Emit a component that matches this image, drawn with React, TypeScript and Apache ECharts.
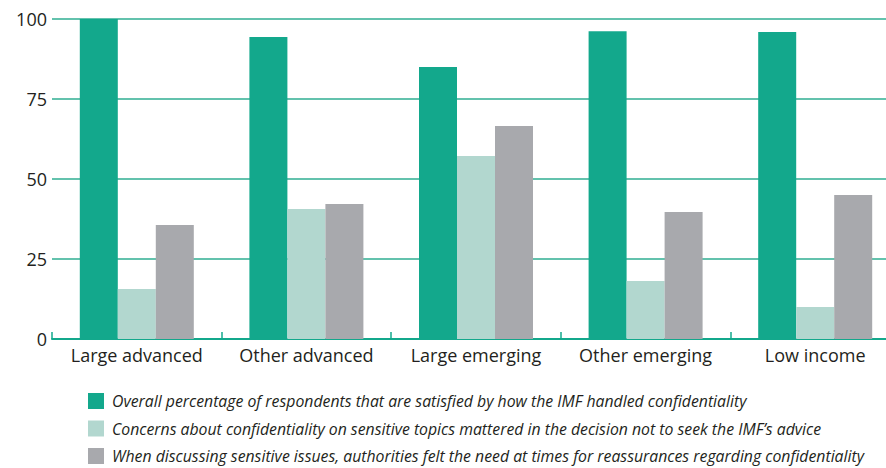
import React, { useEffect, useRef } from "react";
import * as echarts from "echarts";

const categories = ["Large advanced", "Other advanced", "Large emerging", "Other emerging", "Low income"];
const seriesNames = [
  "Overall percentage of respondents that are satisfied by how the IMF handled confidentiality",
  "Concerns about confidentiality on sensitive topics mattered in the decision not to seek the IMF\u2019s advice",
  "When discussing sensitive issues, authorities felt the need at times for reassurances regarding confidentiality",
];
const satisfied = [100, 94.4, 85, 96.2, 95.9];
const concerns = [15.6, 40.6, 57.2, 18.1, 10];
const reassurance = [35.6, 42.2, 66.6, 39.7, 45];
const yTicks = { min: 0, max: 100, interval: 25 };
const colors = ["#13a88c", "#b2d7cf", "#a8a9ad"];

export default function App() {
  const ref = useRef<HTMLDivElement>(null);
  useEffect(() => {
    document.body.style.margin = "0";
    const chart = echarts.init(ref.current!, null, { renderer: "svg" });
    const font = "'Open Sans', Lato, sans-serif";
    const values = [satisfied, concerns, reassurance];
    chart.setOption({
      animation: false,
      textStyle: { fontFamily: font },
      grid: { left: 52, top: 19, width: 848, height: 320, containLabel: false, outerBoundsMode: "none" },
      legend: {
        orient: "vertical",
        left: 88,
        top: 393,
        height: 80,
        padding: 0,
        itemWidth: 16,
        itemHeight: 16,
        itemGap: 11.5,
        icon: "rect",
        selectedMode: false,
        data: seriesNames,
        textStyle: { fontFamily: font, fontStyle: "italic", fontSize: 15.8, color: "#231f20", padding: [0, 0, 0, 3] },
      },
      xAxis: {
        type: "category",
        data: categories,
        boundaryGap: true,
        axisLine: { lineStyle: { color: "#13a88c", width: 2 } },
        axisTick: { show: true, inside: true, length: 7, lineStyle: { color: "#13a88c", width: 1.5 } },
        axisLabel: { interval: 0, fontSize: 18, color: "#231f20", margin: 7, fontFamily: font },
      },
      yAxis: {
        type: "value",
        min: yTicks.min,
        max: yTicks.max,
        interval: yTicks.interval,
        axisLine: { show: false },
        axisTick: { show: false },
        axisLabel: { fontSize: 18, color: "#231f20", margin: 5, fontFamily: font },
        splitLine: { lineStyle: { color: "#2fae92", width: 1.5 } },
      },
      series: seriesNames.map((name, i) => ({
        name,
        type: "bar",
        data: values[i],
        barWidth: 38,
        barGap: "0%",
        itemStyle: { color: colors[i] },
      })),
    });
    return () => chart.dispose();
  }, []);
  return <div ref={ref} style={{ width: 886, height: 468 }} />;
}
